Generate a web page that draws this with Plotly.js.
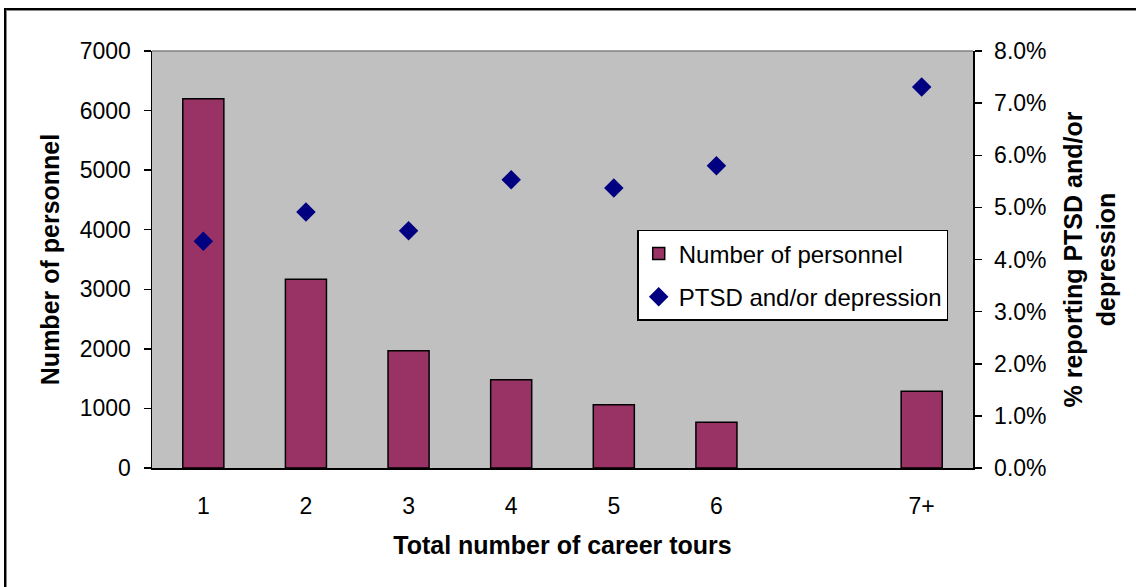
<!DOCTYPE html>
<html>
<head>
<meta charset="utf-8">
<script src="https://cdn.plot.ly/plotly-3.0.1.min.js"></script>
<style>
  html, body { margin: 0; padding: 0; background: #fff; }
  #wrap { position: relative; width: 1136px; height: 587px; overflow: hidden; }
  #chart { width: 1136px; height: 587px; }
  #frame { position: absolute; left: 4px; top: 8px; width: 1140px; height: 600px;
           border-top: 2px solid #000; border-left: 2px solid #000;
           box-shadow: inset 1px 1px 0 #888; pointer-events: none; }
</style>
</head>
<body>
<div id="wrap">
  <div id="chart"></div>
  <div id="frame"></div>
</div>
<script>
// ---- data ----
var tours = ["1", "2", "3", "4", "5", "6", "7+"];
var axisCategories = ["1", "2", "3", "4", "5", "6", "gap", "7+"];
var personnel = [6200, 3170, 1970, 1480, 1060, 770, 1290];
var ptsdPct = [4.35, 4.91, 4.55, 5.53, 5.37, 5.80, 7.31];
var leftTicks = [0, 1000, 2000, 3000, 4000, 5000, 6000, 7000];
var rightTicks = [0, 1, 2, 3, 4, 5, 6, 7, 8];

var FONT = "Liberation Sans, Arial, sans-serif";
var nCat = axisCategories.length;
var boundaries = [];
for (var i = 0; i <= nCat; i++) boundaries.push(i - 0.5);

var traces = [
  {
    type: "bar", name: "Number of personnel", legendgroup: "a",
    x: tours, y: personnel, xaxis: "x", yaxis: "y",
    width: 0.4,
    marker: { color: "#993366", line: { color: "#000", width: 1.5 } }
  },
  {
    type: "scatter", mode: "markers", name: "PTSD and/or depression", legendgroup: "b",
    x: tours, y: ptsdPct, xaxis: "x", yaxis: "y2",
    marker: { symbol: "diamond", size: 15, color: "#000080" }
  }
];

var layout = {
  width: 1136, height: 587,
  margin: { l: 152, r: 163, t: 51, b: 119 },
  paper_bgcolor: "#ffffff",
  plot_bgcolor: "#c0c0c0",
  font: { family: FONT, color: "#000", size: 23 },
  showlegend: true,
  legend: {
    x: 0.591, y: 0.571, xanchor: "left", yanchor: "top",
    bgcolor: "#fff", bordercolor: "#000", borderwidth: 1.5,
    font: { family: FONT, size: 24 },
    traceorder: "grouped", tracegroupgap: 9,
    itemwidth: 30
  },
  xaxis: {
    type: "category",
    categoryorder: "array", categoryarray: axisCategories,
    range: [-0.5, nCat - 0.5],
    tickmode: "array", tickvals: tours, ticktext: tours,
    ticks: "", showgrid: false, zeroline: false,
    showline: true, linecolor: "#000", linewidth: 1.5,
    ticklabelstandoff: 17,
    tickfont: { size: 23 },
    title: { text: "<b>Total number of career tours</b>", font: { size: 25 }, standoff: 18 }
  },
  xaxis2: {
    overlaying: "x", anchor: "y", side: "bottom",
    range: [-0.5, nCat - 0.5],
    tickmode: "array", tickvals: boundaries,
    ticks: "outside", ticklen: 8, tickwidth: 1.5, tickcolor: "#000",
    showticklabels: false, showgrid: false, zeroline: false, showline: false
  },
  yaxis: {
    range: [0, 7000],
    tickmode: "array", tickvals: leftTicks,
    ticks: "outside", ticklen: 7, tickwidth: 1.5, tickcolor: "#000",
    showgrid: false, zeroline: false,
    showline: true, linecolor: "#000", linewidth: 1.5,
    ticklabelstandoff: 8,
    tickfont: { size: 23 },
    title: { text: "<b>Number of personnel</b>", font: { size: 25 }, standoff: 13 }
  },
  yaxis3: {
    overlaying: "y", anchor: "x", side: "left",
    range: [0, 7000], tickmode: "array", tickvals: leftTicks,
    ticks: "inside", ticklen: 7, tickwidth: 1.5, tickcolor: "#000",
    showticklabels: false, showgrid: false, zeroline: false, showline: false
  },
  yaxis2: {
    overlaying: "y", side: "right", anchor: "x",
    range: [0, 8],
    tickmode: "array", tickvals: rightTicks,
    ticktext: rightTicks.map(function (v) { return v.toFixed(1) + "%"; }),
    ticks: "outside", ticklen: 7, tickwidth: 1.5, tickcolor: "#000",
    showgrid: false, zeroline: false,
    showline: true, linecolor: "#000", linewidth: 1.5,
    ticklabelstandoff: 8,
    tickfont: { size: 23 },
    title: { text: "<b>% reporting PTSD and/or<br>depression</b>", font: { size: 25 }, standoff: 19 }
  },
  yaxis4: {
    overlaying: "y", anchor: "x", side: "right",
    range: [0, 8], tickmode: "array", tickvals: rightTicks,
    ticks: "inside", ticklen: 7, tickwidth: 1.5, tickcolor: "#000",
    showticklabels: false, showgrid: false, zeroline: false, showline: false
  },
  shapes: [
    { type: "line", xref: "paper", yref: "paper", x0: 0, x1: 1, y0: 1, y1: 1,
      line: { color: "#808080", width: 1.5 } }
  ]
};

Plotly.newPlot("chart", traces, layout, { displayModeBar: false, staticPlot: true });
</script>
</body>
</html>
